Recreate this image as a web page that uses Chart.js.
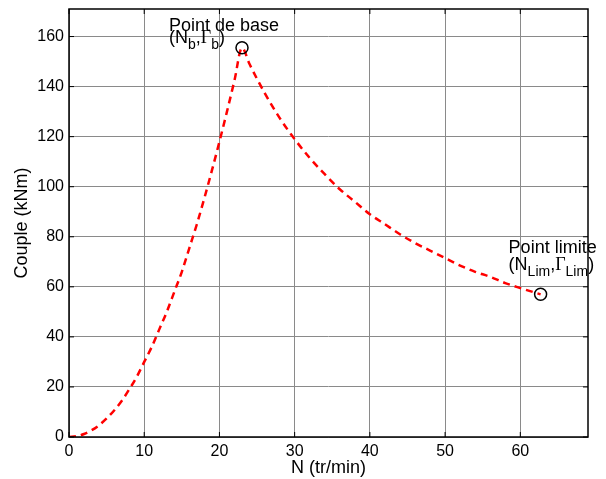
<!DOCTYPE html>
<html>
<head>
    <meta charset="utf-8">
    <title>Couple / vitesse</title>
    <script src="https://cdn.jsdelivr.net/npm/chart.js"></script>
    <style>
        body { margin: 0; background: #fff; }
        #wrap { width: 606px; height: 479px; }
    </style>
</head>
<body>
    <div id="wrap"><canvas id="myChart" width="606" height="479"></canvas></div>
    <script>
        // vitesse N (tr/min) et couple (kNm)
        var vitesse = [0, 1, 2, 3, 4, 5, 6, 7, 8, 9, 10, 11, 12, 13, 14, 15, 16, 17, 18, 19, 20, 21, 22, 23,
            24, 26, 28, 30, 32, 34, 36, 38, 40, 42, 44, 46, 48, 50, 52, 54, 56, 58, 60, 62.7];
        var couple = [0, 0.3, 1.2, 2.7, 4.7, 7.4, 10.6, 14.4, 19, 24, 30, 36, 43, 50, 58, 66, 75.5, 85, 95.5, 106.5, 118, 130, 142.5, 155.5,
            149, 137.5, 127.5, 119, 111.5, 105, 99, 94, 89, 85, 81, 77.5, 74.5, 71.5, 68.5, 66, 64, 61.5, 59.5, 57];

        // points remarquables
        var pointsN = [23, 62.7];
        var pointsC = [155.5, 57];

        var xTicks = [0, 10, 20, 30, 40, 50, 60];
        var yTicks = [0, 20, 40, 60, 80, 100, 120, 140, 160];

        var courbe = [];
        for (var i = 0; i < vitesse.length; i++) {
            courbe.push({ x: vitesse[i], y: couple[i] });
        }
        var marques = [];
        for (var i = 0; i < pointsN.length; i++) {
            marques.push({ x: pointsN[i], y: pointsC[i] });
        }

        var sans = "'Liberation Sans', Arial, sans-serif";
        var serif = "'Liberation Serif', 'Times New Roman', serif";

        // texte avec indices: [texte, police, taille, decalage vertical]
        function richText(ctx, parts, x, y) {
            ctx.fillStyle = '#000';
            ctx.textBaseline = 'alphabetic';
            ctx.textAlign = 'left';
            for (var i = 0; i < parts.length; i++) {
                ctx.font = parts[i][2] + 'px ' + parts[i][1];
                ctx.fillText(parts[i][0], x, y + parts[i][3]);
                x += ctx.measureText(parts[i][0]).width;
            }
        }

        var cadre = {
            id: 'cadre',
            afterDraw: function (chart) {
                var ctx = chart.ctx;
                var a = chart.chartArea;
                var xs = chart.scales.x, ys = chart.scales.y;
                ctx.save();
                ctx.strokeStyle = '#000';
                ctx.lineWidth = 1.5;
                ctx.strokeRect(a.left, a.top, a.right - a.left, a.bottom - a.top);
                ctx.beginPath();
                xTicks.forEach(function (v) {
                    var px = xs.getPixelForValue(v);
                    ctx.moveTo(px, a.bottom); ctx.lineTo(px, a.bottom - 5);
                    ctx.moveTo(px, a.top); ctx.lineTo(px, a.top + 5);
                });
                yTicks.forEach(function (v) {
                    var py = ys.getPixelForValue(v);
                    ctx.moveTo(a.left, py); ctx.lineTo(a.left + 5, py);
                    ctx.moveTo(a.right, py); ctx.lineTo(a.right - 5, py);
                });
                ctx.lineWidth = 1;
                ctx.stroke();

                // annotations
                var bx = xs.getPixelForValue(pointsN[0]), by = ys.getPixelForValue(pointsC[0]);
                richText(ctx, [['Point de base', sans, 18, 0]], bx - 73, by - 17);
                richText(ctx, [['(', sans, 18, 0], ['N', sans, 18, 0], ['b', sans, 14, 6], [',', sans, 18, 0],
                    ['\u0393', serif, 18, 0], ['b', sans, 14, 6], [')', sans, 18, 0]], bx - 73, by - 5);

                var lx = xs.getPixelForValue(pointsN[1]), ly = ys.getPixelForValue(pointsC[1]);
                richText(ctx, [['Point limite', sans, 18, 0]], lx - 32, ly - 41);
                richText(ctx, [['(', sans, 18, 0], ['N', sans, 18, 0], ['Lim', sans, 14, 6], [',', sans, 18, 0],
                    ['\u0393', serif, 18, 0], ['Lim', sans, 14, 6], [')', sans, 18, 0]], lx - 32, ly - 24);
                ctx.restore();
            }
        };

        var ctx = document.getElementById('myChart').getContext('2d');
        window.myChart = new Chart(ctx, {
            type: 'scatter',
            data: {
                datasets: [{
                    data: courbe,
                    showLine: true,
                    borderColor: '#ff0000',
                    borderWidth: 2.5,
                    borderDash: [7, 5],
                    pointRadius: 0,
                    cubicInterpolationMode: 'monotone',
                    order: 2
                }, {
                    data: marques,
                    showLine: false,
                    pointRadius: 6,
                    pointBorderWidth: 1.5,
                    pointBorderColor: '#000',
                    pointBackgroundColor: 'rgba(0,0,0,0)',
                    order: 1
                }]
            },
            options: {
                responsive: false,
                animation: false,
                layout: { padding: { top: 9, right: 18, left: 0, bottom: 0 } },
                plugins: { legend: { display: false }, tooltip: { enabled: false } },
                scales: {
                    x: {
                        type: 'linear',
                        min: 0,
                        max: 69,
                        afterFit: function (s) { s.height = 42; s.paddingLeft = 0; s.paddingRight = 0; },
                        afterBuildTicks: function (s) { s.ticks = xTicks.map(function (v) { return { value: v }; }); },
                        ticks: { color: '#000', font: { size: 16, family: sans }, padding: 5, maxRotation: 0 },
                        grid: { color: '#8a8a8a', lineWidth: 1, drawTicks: false },
                        border: { display: false },
                        title: { display: true, text: 'N (tr/min)', color: '#000', font: { size: 18, family: sans }, padding: 0 }
                    },
                    y: {
                        type: 'linear',
                        min: 0,
                        max: 171,
                        afterFit: function (s) { s.width = 69; s.paddingTop = 0; s.paddingBottom = 0; },
                        afterBuildTicks: function (s) { s.ticks = yTicks.map(function (v) { return { value: v }; }); },
                        ticks: { color: '#000', font: { size: 16, family: sans }, padding: 5 },
                        grid: { color: '#8a8a8a', lineWidth: 1, drawTicks: false },
                        border: { display: false },
                        title: { display: true, text: 'Couple (kNm)', color: '#000', font: { size: 18, family: sans }, padding: { top: 11, bottom: 0 } }
                    }
                }
            },
            plugins: [cadre]
        });
    </script>
</body>
</html>
